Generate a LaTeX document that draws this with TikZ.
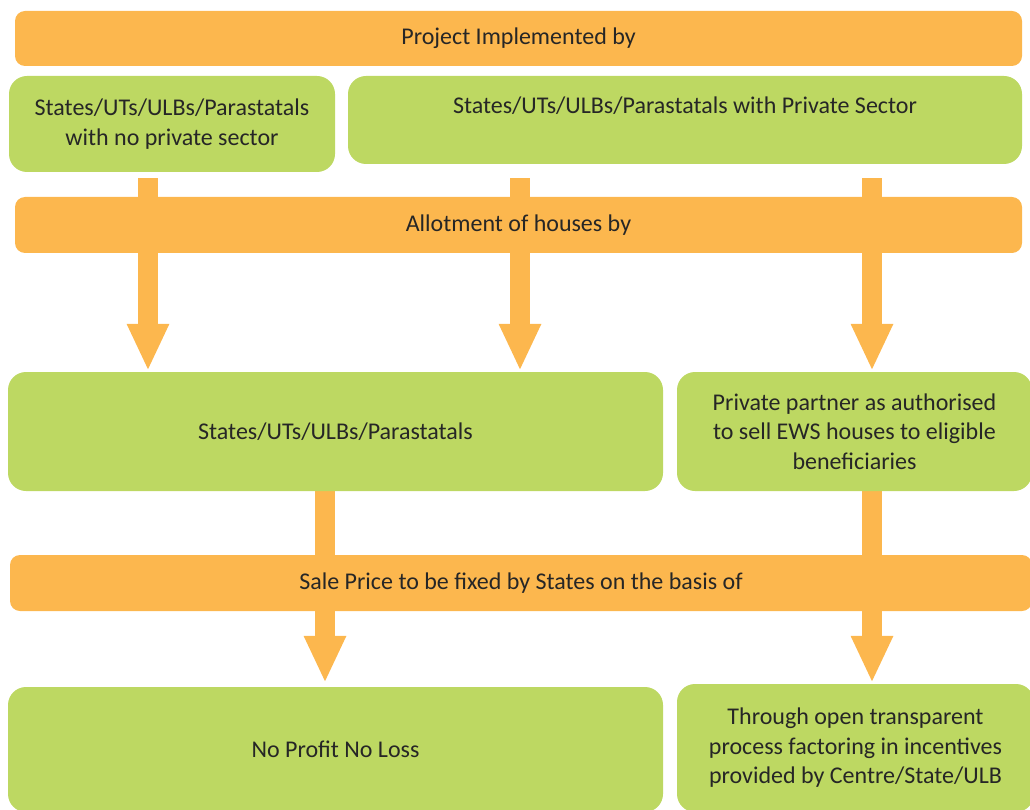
\documentclass[tikz,border=0pt]{standalone}
\usepackage{fontspec}
\setmainfont{Carlito}
\usetikzlibrary{arrows.meta,backgrounds}

\definecolor{barorange}{RGB}{252,183,78}
\definecolor{boxgreen}{RGB}{189,216,98}
\definecolor{textgrey}{RGB}{38,38,38}

\tikzset{
  bar/.style={fill=barorange, rounded corners=10pt, inner sep=0pt, text=textgrey},
  gbox/.style={fill=boxgreen, rounded corners=18pt, inner sep=0pt, align=center, text=textgrey},
  fat/.style={draw=barorange, line width=20pt, -{Triangle[width=39pt,length=47pt]}}
}

\begin{document}
\begin{tikzpicture}[x=1pt, y=-1pt, font=\fontsize{24pt}{29.5pt}\selectfont]
            \useasboundingbox (0, 0) rectangle (1030, 810);
            \clip (0, 0) rectangle (1030, 810);

            % bars
            \node[bar, minimum width=1007pt, minimum height=55pt] (implemented) at (518.5, 38.5) {Project Implemented by};
            \node[bar, minimum width=1007pt, minimum height=56pt] (allotment) at (518.5, 225) {Allotment of houses by};
            \node[bar, minimum width=1022pt, minimum height=56pt] (saleprice) at (521, 583) {Sale Price to be fixed by States on the basis of};

            % green boxes
            \node[gbox, minimum width=326pt, minimum height=96pt] (nopriv) at (172, 124) {States/UTs/ULBs/Parastatals\\with no private sector};
            \node[gbox, minimum width=674pt, text height=38pt, text depth=50pt] (withpriv) at (685, 120) {States/UTs/ULBs/Parastatals with Private Sector};
            \node[gbox, minimum width=655pt, minimum height=119pt] (states) at (335.5, 431.5) {States/UTs/ULBs/Parastatals};
            \node[gbox, minimum width=355pt, minimum height=119pt] (partner) at (854.5, 431.5) {Private partner as authorised\\to sell EWS houses to eligible\\beneficiaries};
            \node[gbox, minimum width=655pt, minimum height=125pt] (noprofit) at (335.5, 749.5) {No Profit No Loss};
            \node[gbox, minimum width=357pt, minimum height=128pt] (open) at (855.5, 748) {Through open transparent\\process factoring in incentives\\provided by Centre/State/ULB};

            % arrow columns
            \coordinate (colA) at (148, 0);
            \coordinate (colB) at (520, 0);
            \coordinate (colC) at (872, 0);
            \coordinate (colD) at (325, 0);

            \begin{scope}[on background layer]
                \draw[fat, shorten <=6pt, shorten >=1pt] (nopriv.south -| colA) -- (states.north -| colA);
                \draw[fat, shorten <=14pt, shorten >=1pt] (withpriv.south -| colB) -- (states.north -| colB);
                \draw[fat, shorten <=14pt, shorten >=1pt] (withpriv.south -| colC) -- (partner.north -| colC);
                \draw[fat, shorten >=4pt] (states.south -| colD) -- (noprofit.north -| colD);
                \draw[fat, shorten >=1pt] (partner.south -| colC) -- (open.north -| colC);
            \end{scope}
        \end{tikzpicture}
\end{document}
